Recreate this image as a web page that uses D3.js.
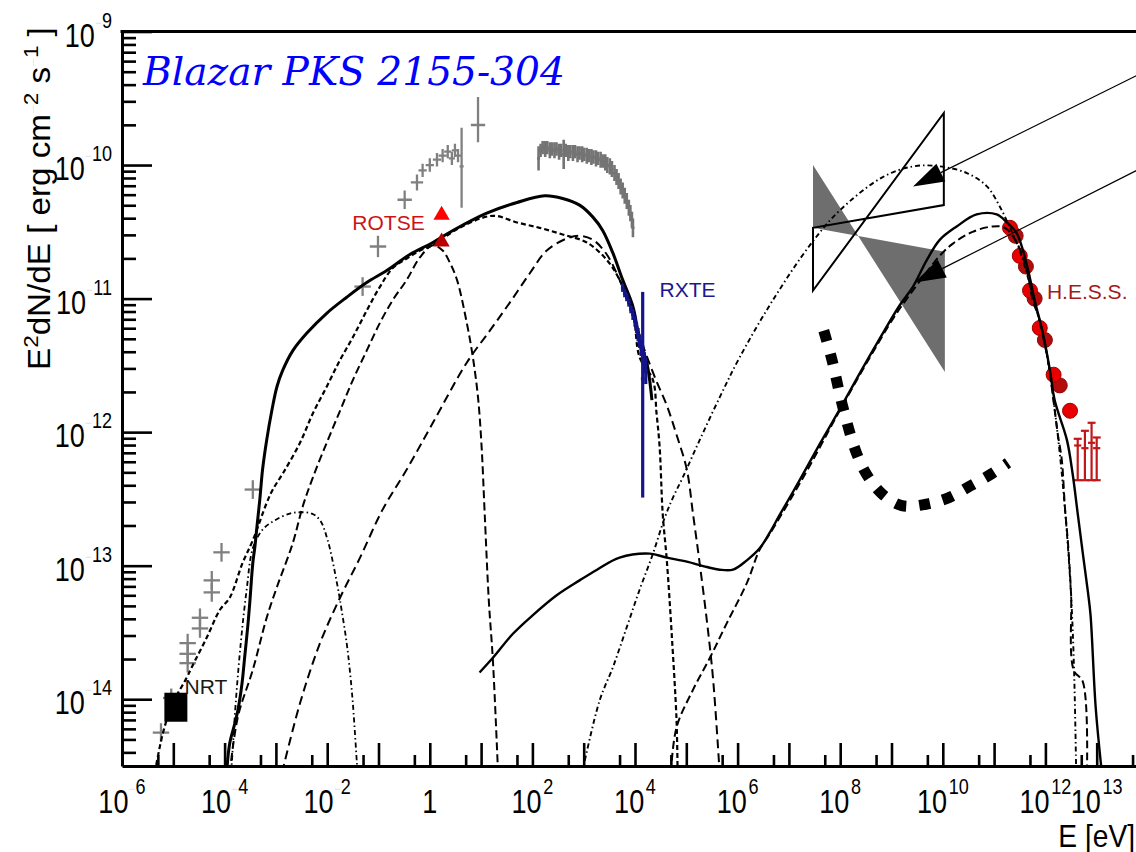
<!DOCTYPE html>
<html>
<head>
<meta charset="utf-8">
<title>Blazar PKS 2155-304</title>
<script src="https://cdn.jsdelivr.net/npm/d3@7"></script>
<style>
  html, body { margin: 0; padding: 0; background: #fff; }
  svg { display: block; }
</style>
</head>
<body>
<svg id="sed" width="1136" height="852"></svg>
<script>
// ------------------------------------------------------------------
// Spectral energy distribution of PKS 2155-304.
// Every pair is [log10(E / eV), log10(E²dN/dE / erg cm⁻² s⁻¹)].
// ------------------------------------------------------------------

const xLabelExps = [-6, -4, -2, 0, 2, 4, 6, 8, 10, 12, 13];
const yLabelExps = [-9, -10, -11, -12, -13, -14];

// synchrotron components
const syncTotal = [[-3.96,-14.55],[-3.90,-14.33],[-3.80,-14.18],[-3.74,-14.08],[-3.66,-13.88],[-3.61,-13.69],[-3.55,-13.46],[-3.51,-13.28],[-3.45,-12.98],[-3.41,-12.86],[-3.37,-12.71],[-3.31,-12.49],[-3.26,-12.28],[-3.18,-12.06],[-3.08,-11.84],[-2.98,-11.66],[-2.87,-11.54],[-2.67,-11.39],[-2.40,-11.26],[-2.01,-11.11],[-1.62,-10.99],[-1.23,-10.88],[-0.84,-10.79],[-0.39,-10.67],[0.06,-10.58],[0.45,-10.49],[1.11,-10.36],[1.70,-10.28],[2.24,-10.23],[2.59,-10.25],[2.92,-10.30],[3.18,-10.39],[3.37,-10.49],[3.57,-10.66],[3.76,-10.86],[3.96,-11.06],[4.09,-11.31],[4.23,-11.48],[4.33,-11.76]];
const syncBroad = [[-5.36,-14.55],[-5.20,-14.25],[-5.01,-14.03],[-4.74,-13.84],[-4.64,-13.76],[-4.35,-13.54],[-4.09,-13.33],[-3.90,-13.24],[-3.65,-12.98],[-3.45,-12.81],[-3.18,-12.53],[-3.06,-12.43],[-2.85,-12.30],[-2.53,-12.08],[-2.28,-11.86],[-2.01,-11.66],[-1.75,-11.46],[-1.50,-11.29],[-1.23,-11.09],[-0.97,-10.91],[-0.72,-10.77],[-0.45,-10.70],[-0.19,-10.64],[0.06,-10.60],[0.58,-10.47],[1.23,-10.38],[1.70,-10.43],[2.14,-10.47],[2.59,-10.52],[3.06,-10.58],[3.45,-10.71],[3.70,-10.86],[3.96,-11.11],[4.09,-11.44],[4.35,-11.61],[4.42,-11.86],[4.48,-12.11],[4.54,-12.61],[4.62,-12.96],[4.72,-13.54],[4.81,-14.16],[4.83,-14.55]];
const syncOptical = [[-3.90,-14.55],[-3.74,-14.13],[-3.45,-13.78],[-3.18,-13.39],[-2.98,-13.16],[-2.67,-12.83],[-2.48,-12.56],[-2.28,-12.34],[-2.01,-12.08],[-1.75,-11.84],[-1.50,-11.61],[-1.23,-11.39],[-0.97,-11.18],[-0.72,-11.01],[-0.45,-10.86],[-0.19,-10.69],[0.06,-10.60],[0.25,-10.64],[0.39,-10.73],[0.53,-10.86],[0.72,-11.18],[0.84,-11.44],[0.94,-11.74],[1.01,-12.11],[1.07,-12.61],[1.15,-13.26],[1.23,-13.71],[1.33,-14.55]];
const syncRadioHump = [[-3.87,-14.55],[-3.78,-14.01],[-3.68,-13.56],[-3.57,-13.18],[-3.45,-12.87],[-3.26,-12.73],[-3.02,-12.66],[-2.73,-12.61],[-2.53,-12.60],[-2.30,-12.61],[-2.14,-12.66],[-1.99,-12.81],[-1.81,-13.13],[-1.72,-13.33],[-1.62,-13.58],[-1.56,-13.78],[-1.50,-14.03],[-1.41,-14.55]];
const syncHard = [[-2.88,-14.55],[-2.53,-14.03],[-2.14,-13.58],[-1.75,-13.24],[-1.36,-12.94],[-0.92,-12.58],[-0.45,-12.28],[0.06,-11.93],[0.72,-11.48],[1.17,-11.24],[1.56,-11.03],[1.95,-10.81],[2.28,-10.64],[2.67,-10.55],[2.92,-10.53],[3.18,-10.56],[3.45,-10.67],[3.70,-10.86],[3.96,-11.12],[4.19,-11.39],[4.42,-11.62],[4.62,-11.80],[4.81,-12.02],[5.01,-12.28],[5.13,-12.61],[5.26,-12.98],[5.40,-13.41],[5.52,-13.84],[5.65,-14.55]];

// inverse-Compton components
const icTotal = [[0.97,-13.80],[1.23,-13.69],[1.62,-13.51],[2.01,-13.37],[2.48,-13.22],[2.92,-13.11],[3.26,-13.03],[3.70,-12.94],[4.29,-12.91],[4.62,-12.94],[5.01,-12.97],[5.40,-13.01],[5.65,-13.03],[5.91,-13.03],[6.18,-12.96],[6.43,-12.87],[6.63,-12.75],[6.82,-12.62],[7.21,-12.36],[7.60,-12.09],[7.99,-11.83],[8.38,-11.56],[8.77,-11.30],[9.16,-11.05],[9.42,-10.91],[9.69,-10.71],[9.94,-10.56],[10.27,-10.46],[10.66,-10.37],[11.05,-10.37],[11.25,-10.43],[11.44,-10.51],[11.64,-10.75],[11.79,-11.01],[11.95,-11.26],[12.09,-11.54],[12.18,-11.76],[12.42,-12.06],[12.53,-12.31],[12.63,-12.61],[12.73,-12.91],[12.83,-13.20],[12.88,-13.37],[12.98,-14.06],[13.10,-14.55]];
const icLowZone = [[4.70,-14.55],[4.81,-14.21],[5.13,-13.93],[5.46,-13.69],[5.79,-13.43],[6.18,-13.13],[6.43,-12.88],[6.63,-12.76],[7.02,-12.51],[7.41,-12.25],[7.86,-11.93],[8.25,-11.66],[8.64,-11.40],[9.03,-11.15],[9.30,-11.00],[9.65,-10.82],[9.94,-10.68],[10.19,-10.59],[10.58,-10.50],[10.97,-10.46],[11.21,-10.47],[11.44,-10.58],[11.64,-10.79],[11.75,-11.01],[11.89,-11.16],[12.05,-11.46],[12.14,-11.71],[12.24,-12.01],[12.32,-12.21],[12.38,-12.56],[12.44,-12.83],[12.50,-13.21],[12.55,-13.78],[12.73,-13.87],[12.81,-14.55]];
const icHighZone = [[2.97,-14.55],[3.31,-14.01],[3.57,-13.76],[3.84,-13.46],[4.09,-13.18],[4.35,-12.91],[4.58,-12.64],[4.74,-12.49],[4.93,-12.34],[5.26,-12.06],[5.65,-11.74],[6.04,-11.44],[6.69,-11.01],[7.41,-10.60],[7.99,-10.34],[8.83,-10.09],[9.42,-10.01],[9.94,-10.01],[10.47,-10.06],[10.86,-10.16],[11.11,-10.31],[11.31,-10.47],[11.50,-10.64],[11.70,-10.90],[11.89,-11.18],[12.05,-11.47],[12.24,-12.02],[12.38,-12.57],[12.50,-13.22],[12.56,-13.80],[12.60,-14.55]];

// sensitivity curve (heavy dotted)
const sensitivity = [[7.68,-11.24],[7.84,-11.46],[8.05,-11.81],[8.32,-12.16],[8.52,-12.32],[8.81,-12.46],[9.20,-12.55],[9.67,-12.54],[10.12,-12.49],[10.55,-12.40],[10.96,-12.31],[11.27,-12.23]];

// gamma-ray bow-ties, corners in drawing order
const bowtieFilled = [[7.47,-10.00],[7.47,-10.47],[10.04,-10.65],[10.04,-11.55]];
const bowtieOpen = [[7.47,-10.47],[7.47,-10.94],[10.02,-9.61],[10.02,-10.30]];

// archival radio to optical data: [logE, logF, dlogE, dlogF up, dlogF down]
const archival = [
  [-5.24,-14.25,0.16,0.07,0.07],[-5.04,-13.99,0.16,0.07,0.07],
  [-4.72,-13.58,0.16,0.07,0.07],[-4.72,-13.66,0.16,0.07,0.07],[-4.72,-13.73,0.16,0.07,0.07],
  [-4.48,-13.39,0.16,0.07,0.07],[-4.48,-13.47,0.16,0.07,0.07],
  [-4.25,-13.11,0.16,0.07,0.07],[-4.25,-13.20,0.16,0.07,0.07],
  [-4.06,-12.90,0.16,0.07,0.07],[-3.45,-12.43,0.16,0.07,0.07],
  [-1.31,-10.91,0.16,0.07,0.07],[-1.01,-10.61,0.16,0.08,0.08],
  [-0.49,-10.26,0.14,0.07,0.07],[-0.25,-10.13,0.12,0.06,0.06],
  [-0.14,-10.04,0.08,0.05,0.05],[0.00,-10.00,0.08,0.05,0.05],[0.14,-9.96,0.08,0.05,0.05],
  [0.25,-9.93,0.08,0.05,0.05],[0.35,-9.90,0.07,0.05,0.05],[0.43,-9.95,0.06,0.05,0.05],
  [0.49,-9.89,0.06,0.05,0.05],[0.55,-9.93,0.06,0.05,0.05],
  [0.62,-10.01,0.04,0.29,0.31],[0.94,-9.70,0.14,0.21,0.13]
];

// X-ray spectrum: [logE, logF, dlogF]
const xraySpectrum = [
  [2.12,-9.95,0.09],[2.16,-9.89,0.05],[2.20,-9.87,0.05],[2.25,-9.88,0.06],[2.29,-9.87,0.05],
  [2.34,-9.89,0.06],[2.38,-9.88,0.05],[2.43,-9.89,0.06],[2.47,-9.88,0.05],[2.52,-9.90,0.06],
  [2.56,-9.89,0.05],[2.61,-9.92,0.11],[2.65,-9.89,0.05],[2.70,-9.91,0.06],[2.74,-9.90,0.05],
  [2.79,-9.91,0.06],[2.83,-9.90,0.05],[2.88,-9.92,0.06],[2.92,-9.91,0.05],[2.97,-9.92,0.06],
  [3.01,-9.92,0.05],[3.06,-9.93,0.06],[3.10,-9.93,0.05],[3.15,-9.94,0.06],[3.19,-9.94,0.05],
  [3.24,-9.95,0.06],[3.28,-9.95,0.05],[3.33,-9.96,0.06],[3.37,-9.97,0.05],[3.42,-9.98,0.06],
  [3.46,-10.00,0.06],[3.51,-10.01,0.06],[3.55,-10.03,0.06],[3.60,-10.06,0.06],[3.64,-10.09,0.06],
  [3.68,-10.12,0.06],[3.72,-10.16,0.06],[3.76,-10.19,0.06],[3.80,-10.23,0.06],[3.84,-10.27,0.06],
  [3.88,-10.32,0.06],[3.91,-10.36,0.06],[3.94,-10.41,0.06],[3.96,-10.47,0.07]
];

// RXTE: [logE, logF, dlogF up, dlogF down]
const rxte = [
  [3.76,-10.92,0.03,0.03],[3.80,-10.96,0.03,0.03],[3.84,-10.99,0.03,0.03],[3.88,-11.03,0.03,0.03],
  [3.92,-11.08,0.03,0.03],[3.96,-11.12,0.04,0.04],[4.00,-11.17,0.04,0.04],[4.03,-11.22,0.04,0.04],
  [4.06,-11.27,0.05,0.05],[4.09,-11.32,0.05,0.05],[4.12,-11.37,0.06,0.06],[4.15,-11.42,0.07,0.07],
  [4.18,-11.48,0.08,0.08],[4.21,-11.54,0.10,0.10],[4.15,-11.60,0.65,0.89]
];

// ROTSE optical points (bright, dark)
const rotse = [[0.23,-10.36],[0.23,-10.56]];
// NRT radio point
const nrt = [[-4.95,-14.06]];
// H.E.S.S. spectrum
const hessBright = [[11.31,-10.47],[11.50,-10.68],[11.70,-10.94],[11.89,-11.22],[12.16,-11.57],[12.48,-11.84]];
const hessDark = [[11.42,-10.53],[11.62,-10.76],[11.79,-11.00],[11.99,-11.31],[12.28,-11.65]];
// highest-energy H.E.S.S. bins: [logE, logF, dlogF up, dlogF down]
const hessTail = [[12.63,-12.10,0.05,0.26],[12.77,-12.12,0.13,0.24],[12.90,-12.08,0.15,0.28],[13.00,-12.12,0.08,0.24]];

// annotation arrows: tail and tip
const arrows = [
  {from: [13.78, -9.33], to: [9.42, -10.16]},
  {from: [13.78, -10.04], to: [9.45, -10.88]}
];

// ------------------------------------------------------------------
// Drawing
// ------------------------------------------------------------------
const svg = d3.select("#sed");
svg.append("rect").attr("width", 1136).attr("height", 852).attr("fill", "#fff");

const xs = d3.scaleLog().domain([1e-6, 1e14]).range([122, 1148]);
const ys = d3.scaleLog().domain([Math.pow(10, -14.5), 1e-9]).range([766, 31.5]);
const px = v => xs(Math.pow(10, v));
const py = v => ys(Math.pow(10, v));
const [X0, X1] = xs.range();
const [Y0, Y1] = ys.range();

svg.append("defs").append("clipPath").attr("id", "plotArea")
  .append("rect").attr("x", X0).attr("y", Y1).attr("width", X1 - X0).attr("height", Y0 - Y1);

const plot = svg.append("g").attr("clip-path", "url(#plotArea)");

// bow-ties
const polyPath = pts => "M" + pts.map(p => px(p[0]) + "," + py(p[1])).join("L") + "Z";
plot.append("path").attr("d", polyPath(bowtieFilled)).attr("fill", "#6e6e6e");
plot.append("path").attr("d", polyPath(bowtieOpen)).attr("fill", "none")
  .attr("stroke", "#000").attr("stroke-width", 2);

// error-bar helper
function errorBars(g, rows, opt) {
  rows.forEach(r => {
    const e = r[0], f = r[1];
    const up = opt.up(r), dn = opt.down(r), de = opt.dE(r);
    if (de > 0) {
      g.append("line").attr("x1", px(e - de)).attr("x2", px(e + de))
        .attr("y1", py(f)).attr("y2", py(f));
    }
    g.append("line").attr("x1", px(e)).attr("x2", px(e))
      .attr("y1", py(f + up)).attr("y2", py(f - dn));
    if (opt.caps) {
      [f + up, f - dn].forEach(v => {
        g.append("line").attr("x1", px(e) - 4).attr("x2", px(e) + 4)
          .attr("y1", py(v)).attr("y2", py(v));
      });
    }
  });
}

// archival data (grey crosses)
errorBars(plot.append("g").attr("stroke", "#808080").attr("stroke-width", 2.3), archival,
  {dE: r => r[2], up: r => r[3], down: r => r[4]});

// X-ray spectrum (grey band of points)
errorBars(plot.append("g").attr("stroke", "#747474").attr("stroke-width", 2.6), xraySpectrum,
  {dE: () => 0.03, up: r => r[2], down: r => r[2]});

// H.E.S.S. points
const gHess = plot.append("g");
gHess.selectAll("circle.dark").data(hessDark).join("circle")
  .attr("cx", d => px(d[0])).attr("cy", d => py(d[1])).attr("r", 7.5)
  .attr("fill", "#b40c0c").attr("stroke", "#8a0a0a").attr("stroke-width", 1);
gHess.selectAll("circle.bright").data(hessBright).join("circle")
  .attr("cx", d => px(d[0])).attr("cy", d => py(d[1])).attr("r", 7.5)
  .attr("fill", "#e80000").attr("stroke", "#a00000").attr("stroke-width", 1);
errorBars(gHess.append("g").attr("stroke", "#c01818").attr("stroke-width", 2.2), hessTail,
  {dE: () => 0.07, up: r => r[2], down: r => r[3], caps: true});

// model curves
const lineGen = d3.line()
  .x(d => px(d[0])).y(d => py(d[1]))
  .curve(d3.curveCatmullRom.alpha(0.5));

const curveStyles = [
  {pts: syncRadioHump, w: 1.8, dash: "5,3,1.5,3"},
  {pts: syncOptical, w: 2, dash: "8,4"},
  {pts: syncBroad, w: 2.2, dash: "5,3"},
  {pts: syncHard, w: 2, dash: "9,5"},
  {pts: icHighZone, w: 1.9, dash: "5,3,1.5,3"},
  {pts: icLowZone, w: 2, dash: "8,4"},
  {pts: icTotal, w: 2.4, dash: null},
  {pts: syncTotal, w: 3, dash: null}
];
curveStyles.forEach(c => {
  plot.append("path").attr("d", lineGen(c.pts))
    .attr("fill", "none").attr("stroke", "#000").attr("stroke-width", c.w)
    .attr("stroke-dasharray", c.dash);
});

// RXTE spectrum
errorBars(plot.append("g").attr("stroke", "#14148c").attr("stroke-width", 3.2), rxte,
  {dE: () => 0.035, up: r => r[2], down: r => r[3]});

// ROTSE triangles
const tri = d3.symbol().type(d3.symbolTriangle).size(115);
plot.selectAll("path.rotse").data(rotse).join("path")
  .attr("transform", d => `translate(${px(d[0])},${py(d[1]) + 2})`)
  .attr("d", tri)
  .attr("fill", (d, i) => i === 0 ? "#ff0000" : "#b80000");

// NRT square
plot.selectAll("rect.nrt").data(nrt).join("rect")
  .attr("x", d => px(d[0]) - 11.5).attr("y", d => py(d[1]) - 14.5)
  .attr("width", 23).attr("height", 29).attr("fill", "#000");

// sensitivity curve
plot.append("path").attr("d", lineGen(sensitivity))
  .attr("fill", "none").attr("stroke", "#000").attr("stroke-width", 11)
  .attr("stroke-dasharray", "11,13");

// arrows
arrows.forEach(a => {
  const x1 = px(a.from[0]), y1 = py(a.from[1]);
  const x2 = px(a.to[0]), y2 = py(a.to[1]);
  const ang = Math.atan2(y2 - y1, x2 - x1);
  const L = 31, hw = 10;
  const bx = x2 - L * Math.cos(ang), by = y2 - L * Math.sin(ang);
  svg.append("line").attr("x1", x1).attr("y1", y1).attr("x2", bx).attr("y2", by)
    .attr("stroke", "#000").attr("stroke-width", 1.2);
  svg.append("path")
    .attr("d", `M${x2},${y2}L${bx + hw * Math.sin(ang)},${by - hw * Math.cos(ang)}L${bx - hw * Math.sin(ang)},${by + hw * Math.cos(ang)}Z`)
    .attr("fill", "#000");
});

// instrument labels
const SANS = "'Liberation Sans', Arial, Helvetica, sans-serif";
[
  {t: "ROTSE", at: [-0.10, -10.49], anchor: "end", fill: "#cc1414"},
  {t: "NRT", at: [-4.78, -13.96], anchor: "start", fill: "#1a1a1a"},
  {t: "RXTE", at: [4.48, -10.99], anchor: "start", fill: "#1a1a90"},
  {t: "H.E.S.S.", at: [12.03, -11.00], anchor: "start", fill: "#a31a1a"}
].forEach(l => {
  svg.append("text").attr("x", px(l.at[0])).attr("y", py(l.at[1]))
    .attr("text-anchor", l.anchor).attr("font-family", SANS).attr("font-size", 21)
    .attr("fill", l.fill).text(l.t);
});

// ------------------------------------------------------------------
// Axes
// ------------------------------------------------------------------
const xMajor = d3.range(-6, 15).map(e => Math.pow(10, e));
const xMinor = d3.range(-6, 14).map(e => 5 * Math.pow(10, e));
const yMajor = d3.range(-14, -8).map(e => Math.pow(10, e));
const yMinor = [];
d3.range(-15, -9).forEach(e => d3.range(2, 10).forEach(m => {
  const v = m * Math.pow(10, e);
  if (v >= ys.domain()[0] && v <= ys.domain()[1]) yMinor.push(v);
}));

function styleAxis(g, keepDomain) {
  g.selectAll(".tick line").attr("stroke", "#000").attr("stroke-width", 2.6);
  if (keepDomain) g.select(".domain").attr("stroke", "#000").attr("stroke-width", 3);
  else g.select(".domain").remove();
}

const gxMinor = svg.append("g").attr("transform", `translate(0,${Y0})`)
  .call(d3.axisBottom(xs).tickValues(xMinor).tickSizeInner(-11).tickSizeOuter(0).tickFormat(""));
styleAxis(gxMinor, false);
const gx = svg.append("g").attr("transform", `translate(0,${Y0})`)
  .call(d3.axisBottom(xs).tickValues(xMajor).tickSizeInner(-23).tickSizeOuter(0).tickFormat(""));
styleAxis(gx, true);

const gyMinor = svg.append("g").attr("transform", `translate(${X0},0)`)
  .call(d3.axisLeft(ys).tickValues(yMinor).tickSizeInner(-14).tickSizeOuter(0).tickFormat(""));
styleAxis(gyMinor, false);
const gy = svg.append("g").attr("transform", `translate(${X0},0)`)
  .call(d3.axisLeft(ys).tickValues(yMajor).tickSizeInner(-30).tickSizeOuter(0).tickFormat(""));
styleAxis(gy, true);

// top frame
svg.append("line").attr("x1", X0 - 1.5).attr("x2", X1).attr("y1", Y1).attr("y2", Y1)
  .attr("stroke", "#000").attr("stroke-width", 3);

// power-of-ten tick labels
function powerLabel(g, exp, anchor) {
  const t = g.append("text").attr("text-anchor", anchor)
    .attr("font-family", SANS).attr("font-size", 33).attr("fill", "#000");
  if (exp === 0) { t.text("1"); return; }
  t.append("tspan").text("10");
  if (exp < 0) {
    t.append("tspan").attr("dy", -19).attr("font-size", 15).attr("fill-opacity", 0.12).text("\u2212");
    t.append("tspan").attr("font-size", 22).text(String(-exp));
  } else {
    t.append("tspan").attr("dy", -19).attr("dx", 2).attr("font-size", 22).text(String(exp));
  }
}
xLabelExps.forEach(e => {
  const g = svg.append("g").attr("transform", `translate(${xs(Math.pow(10, e))},813) scale(0.82,1)`);
  powerLabel(g, e, "middle");
});
yLabelExps.forEach(e => {
  const g = svg.append("g").attr("transform", `translate(112,${ys(Math.pow(10, e)) + 15}) scale(0.82,1)`);
  powerLabel(g, e, "end");
});

// x-axis title
svg.append("g").attr("transform", "translate(1135,847) scale(0.88,1)")
  .append("text").attr("text-anchor", "end").attr("font-family", SANS)
  .attr("font-size", 32).attr("fill", "#000").text("E [eV]");

// y-axis title, written bottom to top
const yTitleG = svg.append("g");
const yTitle = yTitleG.append("text").attr("font-family", SANS).attr("font-size", 31).attr("fill", "#000");
yTitle.append("tspan").text("E");
yTitle.append("tspan").attr("dy", -12).attr("font-size", 21).text("2");
yTitle.append("tspan").attr("dy", 12).text("dN/dE [ erg cm");
yTitle.append("tspan").attr("dy", -12).attr("font-size", 14).attr("fill-opacity", 0.12).text("\u2212");
yTitle.append("tspan").attr("font-size", 21).text("2");
yTitle.append("tspan").attr("dy", 12).text(" s");
yTitle.append("tspan").attr("dy", -12).attr("font-size", 14).attr("fill-opacity", 0.12).text("\u2212");
yTitle.append("tspan").attr("font-size", 21).text("1");
yTitle.append("tspan").attr("dy", 12).text(" ]");
const yLen = yTitle.node().getComputedTextLength();
yTitleG.attr("transform", `translate(50,370) rotate(-90) scale(${343 / yLen},1)`);

// title
const titleG = svg.append("g");
const title = titleG.append("text")
  .attr("font-family", "'DejaVu Serif', 'Liberation Serif', serif")
  .attr("font-style", "italic").attr("font-size", 40).attr("fill", "#0000ff")
  .text("Blazar PKS 2155-304");
const tLen = title.node().getComputedTextLength();
titleG.attr("transform", `translate(143,85) scale(${422 / tLen},1)`);
</script>
</body>
</html>
